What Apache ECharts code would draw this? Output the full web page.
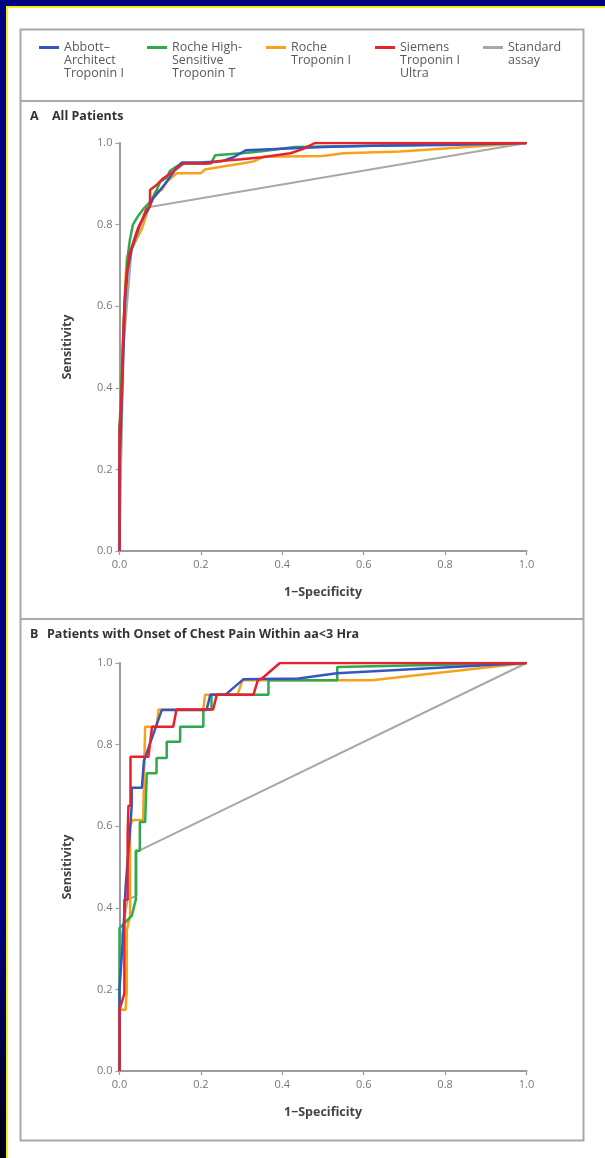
<!DOCTYPE html>
<html>
<head>
<meta charset="utf-8">
<script src="https://cdn.jsdelivr.net/npm/echarts@6/dist/echarts.min.js"></script>
<style>
html,body{margin:0;padding:0;width:605px;height:1158px;overflow:hidden;background:linear-gradient(#000080 0%,#000080 80%,#000010 100%);}
#paper{position:absolute;left:6px;top:6px;width:599px;height:1152px;background:#fff;border-left:2px solid #f5ee1a;border-top:2px solid #f5ee1a;box-sizing:border-box;}
#chart{position:absolute;left:0;top:0;width:605px;height:1158px;}
</style>
</head>
<body>
<div id="paper"></div>
<div id="chart"></div>
<script>
// ---- data (1-specificity, sensitivity) ----
const seriesNames = ['Abbott-Architect Troponin I','Roche High-Sensitive Troponin T','Roche Troponin I','Siemens Troponin I Ultra','Standard assay'];
const legendLabels = ['Abbott–\nArchitect\nTroponin I','Roche High-\nSensitive\nTroponin T','Roche\nTroponin I','Siemens\nTroponin I\nUltra','Standard\nassay'];
const seriesColors = ['#3556c2','#2ea94b','#f7a21b','#e6232b','#a8a8a8'];
const xTicks = [0,0.2,0.4,0.6,0.8,1.0];
const yTicks = [0,0.2,0.4,0.6,0.8,1.0];
const panelTitles = ['All Patients','Patients with Onset of Chest Pain Within aa<3 Hra'];
const panelLetters = ['A','B'];

// Panel A: all patients
const allAbbott = [[0,0],[0,0.2],[0.005,0.35],[0.01,0.5],[0.013,0.6],[0.02,0.69],[0.03,0.74],[0.04,0.77],[0.05,0.8],[0.06,0.82],[0.072,0.84],[0.083,0.865],[0.1,0.885],[0.116,0.905],[0.14,0.94],[0.153,0.952],[0.2,0.952],[0.25,0.955],[0.28,0.965],[0.31,0.982],[0.4,0.986],[0.5,0.99],[0.62,0.993],[0.8,0.995],[1,1]];
const allRocheT = [[0,0],[0,0.3],[0.005,0.42],[0.01,0.55],[0.015,0.65],[0.02,0.72],[0.025,0.76],[0.033,0.8],[0.045,0.82],[0.06,0.84],[0.07,0.85],[0.085,0.87],[0.1,0.905],[0.116,0.915],[0.124,0.932],[0.14,0.942],[0.157,0.95],[0.225,0.95],[0.235,0.97],[0.3,0.975],[0.35,0.98],[0.43,0.99],[0.62,0.993],[1,1]];
const allRocheI = [[0,0],[0,0.25],[0.005,0.4],[0.01,0.55],[0.014,0.65],[0.018,0.72],[0.03,0.74],[0.04,0.76],[0.055,0.79],[0.065,0.82],[0.075,0.85],[0.087,0.88],[0.104,0.885],[0.116,0.905],[0.14,0.926],[0.2,0.926],[0.21,0.935],[0.25,0.942],[0.3,0.95],[0.33,0.955],[0.353,0.966],[0.5,0.968],[0.55,0.975],[0.69,0.979],[1,1]];
const allSiemens = [[0,0],[0,0.3],[0.004,0.35],[0.007,0.45],[0.01,0.55],[0.013,0.62],[0.018,0.68],[0.025,0.73],[0.035,0.76],[0.045,0.79],[0.055,0.81],[0.065,0.835],[0.075,0.845],[0.075,0.885],[0.091,0.897],[0.107,0.913],[0.132,0.93],[0.157,0.95],[0.214,0.95],[0.24,0.955],[0.3,0.96],[0.35,0.965],[0.42,0.975],[0.45,0.985],[0.48,1],[1,1]];
const allStandard = [[0,0],[0.01,0.5],[0.03,0.74],[0.067,0.842],[1,1]];

// Panel B: onset of chest pain within 3 hours
const earlyAbbott = [[0,0],[0,0.2],[0.01,0.35],[0.015,0.45],[0.025,0.58],[0.03,0.65],[0.03,0.694],[0.055,0.694],[0.06,0.76],[0.104,0.885],[0.214,0.885],[0.223,0.922],[0.26,0.922],[0.304,0.96],[0.44,0.962],[0.534,0.975],[1,1]];
const earlyRocheT = [[0,0],[0,0.35],[0.03,0.38],[0.04,0.42],[0.04,0.54],[0.05,0.54],[0.05,0.61],[0.063,0.61],[0.067,0.73],[0.091,0.73],[0.091,0.767],[0.116,0.767],[0.116,0.807],[0.149,0.807],[0.149,0.844],[0.206,0.844],[0.206,0.886],[0.226,0.886],[0.226,0.922],[0.366,0.922],[0.366,0.958],[0.535,0.958],[0.535,0.99],[1,1]];
const earlyRocheI = [[0,0],[0,0.15],[0.015,0.15],[0.018,0.2],[0.018,0.345],[0.026,0.38],[0.026,0.6],[0.032,0.615],[0.058,0.615],[0.063,0.844],[0.091,0.844],[0.096,0.886],[0.206,0.886],[0.21,0.922],[0.29,0.922],[0.302,0.958],[0.62,0.958],[1,1]];
const earlySiemens = [[0,0],[0,0.15],[0.012,0.19],[0.012,0.42],[0.02,0.42],[0.02,0.58],[0.022,0.58],[0.022,0.65],[0.027,0.65],[0.027,0.77],[0.071,0.77],[0.08,0.844],[0.132,0.844],[0.14,0.886],[0.23,0.886],[0.239,0.922],[0.329,0.922],[0.34,0.958],[0.35,0.962],[0.394,1],[1,1]];
const earlyStandard = [[0,0],[0,0.3],[0.02,0.42],[0.042,0.43],[0.042,0.537],[1,1]];

const panelData = [
  [allAbbott, allRocheT, allRocheI, allSiemens, allStandard],
  [earlyAbbott, earlyRocheT, earlyRocheI, earlySiemens, earlyStandard]
];

// ---- layout ----
const FONT = '"Open Sans", "Liberation Sans", sans-serif';
const grids = [
  {left:119.5, top:143, width:407, height:408},
  {left:119.5, top:663, width:407, height:408}
];
const titleTops = [110, 628];
const legendLeft = [39, 147, 266, 375, 483];

const chart = echarts.init(document.getElementById('chart'), null, {renderer:'canvas'});

const axisCommon = {
  min:0, max:1, interval:0.2,
  axisLine:{show:true, onZero:false, lineStyle:{color:'#9c9c9c', width:2}},
  axisTick:{show:true, length:4, lineStyle:{color:'#9c9c9c', width:1.2}},
  splitLine:{show:false},
  axisLabel:{color:'#777', fontSize:11, fontFamily:FONT, formatter:v=>v.toFixed(1)},
  nameTextStyle:{color:'#444', fontSize:12.5, fontWeight:'bold', fontFamily:FONT}
};

const xAxes = grids.map((g,i)=>Object.assign({}, axisCommon, {
  type:'value', gridIndex:i, name:'1−Specificity', nameLocation:'middle', nameGap:35,
  axisLabel:Object.assign({}, axisCommon.axisLabel, {margin:8})
}));
const yAxes = grids.map((g,i)=>Object.assign({}, axisCommon, {
  type:'value', gridIndex:i, name:'Sensitivity', nameLocation:'middle', nameGap:46,
  axisLabel:Object.assign({}, axisCommon.axisLabel, {margin:7})
}));

const drawOrder = [4,2,1,0,3];
const series = [];
grids.forEach((g,p)=>{
  drawOrder.forEach(k=>{
    series.push({
      type:'line', name:seriesNames[k], xAxisIndex:p, yAxisIndex:p,
      data:panelData[p][k], showSymbol:false, symbol:'none', smooth:false,
      lineStyle:{color:seriesColors[k], width:k===4?2:2.5},
      itemStyle:{color:seriesColors[k]},
      z:2+drawOrder.indexOf(k), animation:false
    });
  });
});

const legends = seriesNames.map((n,k)=>{
  const lines = legendLabels[k].split('\n');
  const pad = new Array(lines.length-1).fill(' ');
  const label = pad.concat(lines).join('\n');
  const total = (lines.length*2-1)*13;
  return {
    data:[n], left:legendLeft[k], top:46 - total/2 + 1.5, padding:0,
    icon:'rect', itemWidth:20, itemHeight:3, selectedMode:false,
    formatter:()=>label,
    textStyle:{color:'#5a5a5a', fontSize:12.5, lineHeight:13, fontFamily:FONT}
  };
});

const titles = [];
panelTitles.forEach((t,i)=>{
  titles.push({text:panelLetters[i], left:30, top:titleTops[i], padding:0,
    textStyle:{fontSize:12.5, fontWeight:'bold', color:'#333', fontFamily:FONT}});
  titles.push({text:t, left:i===0?52:47, top:titleTops[i], padding:0,
    textStyle:{fontSize:12.5, fontWeight:'bold', color:'#333', fontFamily:FONT}});
});

chart.setOption({
  backgroundColor:'transparent',
  animation:false,
  title:titles,
  legend:legends,
  grid:grids.map(g=>Object.assign({containLabel:false}, g)),
  xAxis:xAxes,
  yAxis:yAxes,
  series:series,
  graphic:[
    {type:'rect', shape:{x:20.5, y:29.5, width:563, height:1111}, style:{fill:'none', stroke:'#a9a9a9', lineWidth:2}, silent:true},
    {type:'line', shape:{x1:20.5, y1:101, x2:583.5, y2:101}, style:{stroke:'#a9a9a9', lineWidth:2}, silent:true},
    {type:'line', shape:{x1:20.5, y1:619, x2:583.5, y2:619}, style:{stroke:'#a9a9a9', lineWidth:2}, silent:true}
  ]
});
</script>
</body>
</html>
